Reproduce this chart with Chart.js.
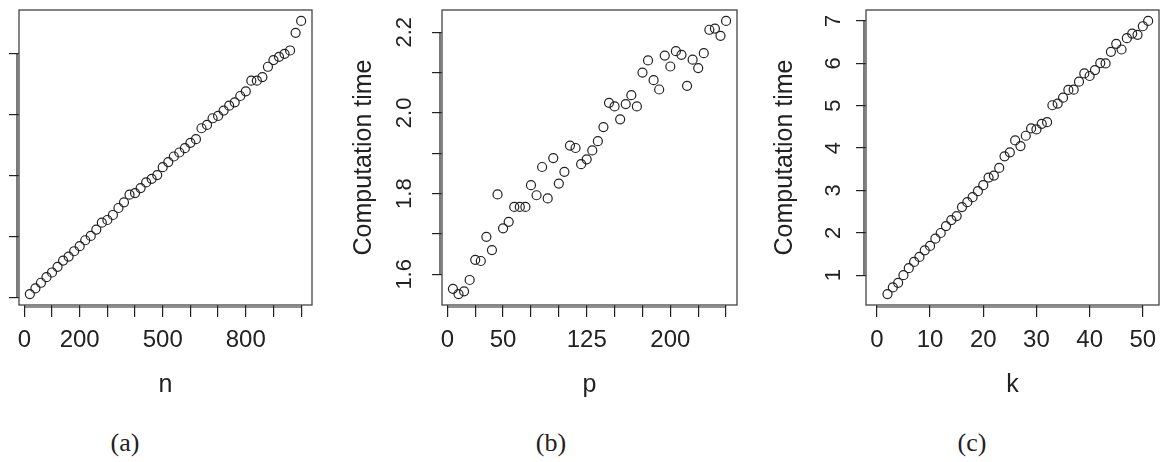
<!DOCTYPE html>
<html>
<head>
<meta charset="utf-8">
<script src="https://cdn.jsdelivr.net/npm/chart.js@4/dist/chart.umd.min.js"></script>
<style>
  body { margin: 0; background: #fff; width: 1167px; height: 462px; position: relative; overflow: hidden; }
  canvas { position: absolute; top: 0; }
  .cap { position: absolute; top: 428px; font-family: "Liberation Serif", serif; font-size: 26px; line-height: 30px; color: #222; transform: translateX(-50%); }
</style>
</head>
<body>
<canvas id="ca" width="330" height="400" style="left:0px"></canvas>
<canvas id="cb" width="415" height="400" style="left:340px"></canvas>
<canvas id="cc" width="407" height="400" style="left:760px"></canvas>
<div class="cap" style="left:125px">(a)</div>
<div class="cap" style="left:551px">(b)</div>
<div class="cap" style="left:972px">(c)</div>
<script>
// panel (a): computation time against n (y axis labels are cut off in the figure)
const nValues = [20, 40, 60, 80, 100, 120, 140, 160, 180, 200, 220, 240, 260, 280, 300, 320, 340, 360, 380, 400,
  420, 440, 460, 480, 500, 520, 540, 560, 580, 600, 620, 640, 660, 680, 700, 720, 740, 760, 780, 800,
  820, 840, 860, 880, 900, 920, 940, 960, 980, 1000];
const timeA = [1.065, 1.157, 1.25, 1.342, 1.418, 1.51, 1.613, 1.678, 1.765, 1.847,
  1.944, 2.015, 2.118, 2.232, 2.275, 2.357, 2.471, 2.563, 2.688, 2.715,
  2.796, 2.889, 2.948, 3.008, 3.138, 3.22, 3.312, 3.377, 3.448, 3.535,
  3.594, 3.773, 3.828, 3.936, 3.974, 4.061, 4.142, 4.197, 4.3, 4.376,
  4.55, 4.55, 4.609, 4.777, 4.886, 4.94, 4.989, 5.043, 5.331, 5.526];
const xTicksA = [0, 100, 200, 300, 400, 500, 600, 700, 800, 900, 1000];
const xLabelsA = ['0', '', '200', '', '', '500', '', '', '800', '', ''];
const yTicksA = [1, 2, 3, 4, 5];
const yLabelsA = ['', '', '', '', ''];

// panel (b): computation time against p
const pValues = [5, 10, 15, 20, 25, 30, 35, 40, 45, 50, 55, 60, 65, 70, 75, 80, 85, 90, 95, 100,
  105, 110, 115, 120, 125, 130, 135, 140, 145, 150, 155, 160, 165, 170, 175, 180, 185, 190, 195, 200,
  205, 210, 215, 220, 225, 230, 235, 240, 245, 250];
const timeB = [1.564, 1.551, 1.558, 1.586, 1.636, 1.633, 1.693, 1.66, 1.798, 1.714,
  1.73, 1.767, 1.767, 1.767, 1.821, 1.796, 1.866, 1.788, 1.888, 1.825,
  1.854, 1.919, 1.913, 1.873, 1.885, 1.907, 1.93, 1.965, 2.025, 2.016,
  1.984, 2.022, 2.044, 2.016, 2.1, 2.13, 2.081, 2.058, 2.142, 2.115,
  2.153, 2.144, 2.067, 2.132, 2.111, 2.148, 2.206, 2.209, 2.191, 2.228];
const xTicksB = [0, 25, 50, 75, 100, 125, 150, 175, 200, 225, 250];
const xLabelsB = ['0', '', '50', '', '', '125', '', '', '200', '', ''];
const yTicksB = [1.6, 1.7, 1.8, 1.9, 2.0, 2.1, 2.2];
const yLabelsB = ['1.6', '', '1.8', '', '2.0', '', '2.2'];

// panel (c): computation time against k
const kValues = [2, 3, 4, 5, 6, 7, 8, 9, 10, 11, 12, 13, 14, 15, 16, 17, 18, 19, 20, 21,
  22, 23, 24, 25, 26, 27, 28, 29, 30, 31, 32, 33, 34, 35, 36, 37, 38, 39, 40, 41,
  42, 43, 44, 45, 46, 47, 48, 49, 50, 51];
const timeC = [0.554, 0.71, 0.82, 1.0, 1.164, 1.313, 1.431, 1.587, 1.689, 1.862,
  1.995, 2.159, 2.3, 2.394, 2.606, 2.723, 2.841, 2.982, 3.123, 3.303,
  3.35, 3.53, 3.804, 3.898, 4.18, 4.047, 4.29, 4.462, 4.439, 4.572,
  4.611, 5.01, 5.05, 5.19, 5.371, 5.378, 5.566, 5.762, 5.7, 5.841,
  6.005, 5.997, 6.271, 6.459, 6.326, 6.593, 6.702, 6.671, 6.875, 7.0];
const xTicksC = [0, 10, 20, 30, 40, 50];
const xLabelsC = ['0', '10', '20', '30', '40', '50'];
const yTicksC = [1, 2, 3, 4, 5, 6, 7];
const yLabelsC = ['1', '2', '3', '4', '5', '6', '7'];

const ink = '#222';
const sans = '"Liberation Sans", Arial, sans-serif';

// box round the plot region and R style axis lines (first tick to last tick)
const framePlugin = {
  id: 'frame',
  afterDraw(chart) {
    const { ctx, chartArea: a, scales } = chart;
    ctx.save();
    ctx.strokeStyle = '#444';
    ctx.lineWidth = 1.3;
    ctx.strokeRect(a.left, a.top, a.right - a.left, a.bottom - a.top);
    ctx.strokeStyle = ink;
    ctx.lineWidth = 1.2;
    const xt = scales.x.ticks, yt = scales.y.ticks;
    ctx.beginPath();
    ctx.moveTo(scales.x.getPixelForValue(xt[0].value), a.bottom + 2);
    ctx.lineTo(scales.x.getPixelForValue(xt[xt.length - 1].value), a.bottom + 2);
    ctx.moveTo(a.left - 2, scales.y.getPixelForValue(yt[0].value));
    ctx.lineTo(a.left - 2, scales.y.getPixelForValue(yt[yt.length - 1].value));
    ctx.stroke();
    ctx.restore();
  }
};

function makePanel(id, p) {
  const pts = p.xs.map((x, i) => ({ x: x, y: p.ys[i] }));
  return new Chart(document.getElementById(id), {
    type: 'scatter',
    data: {
      datasets: [{
        data: pts,
        pointStyle: 'circle',
        pointRadius: 4.5,
        pointBorderWidth: 1.2,
        borderColor: ink,
        backgroundColor: 'rgba(0,0,0,0)'
      }]
    },
    options: {
      responsive: false,
      animation: false,
      layout: { padding: { top: 10, right: p.padRight, left: 0, bottom: 0 } },
      plugins: { legend: { display: false }, tooltip: { enabled: false } },
      scales: {
        x: {
          type: 'linear',
          min: p.xMin, max: p.xMax,
          afterBuildTicks: s => { s.ticks = p.xTicks.map(v => ({ value: v })); },
          afterFit: s => { s.height = 95; s.paddingLeft = 0; s.paddingRight = 0; },
          grid: { display: true, drawOnChartArea: false, drawTicks: true, tickLength: 12, color: ink, lineWidth: 1.2 },
          border: { display: false },
          ticks: {
            autoSkip: false, maxRotation: 0, minRotation: 0, padding: 9, color: ink,
            font: { family: sans, size: 24 },
            callback: (v, i) => p.xLabels[i]
          },
          title: { display: true, text: p.xTitle, color: ink, font: { family: sans, size: 25 }, padding: { top: 0, bottom: 0 } }
        },
        y: {
          type: 'linear',
          min: p.yMin, max: p.yMax,
          afterBuildTicks: s => { s.ticks = p.yTicks.map(v => ({ value: v })); },
          afterFit: s => { s.width = p.yWidth; s.paddingTop = 0; s.paddingBottom = 0; },
          grid: { display: true, drawOnChartArea: false, drawTicks: true, tickLength: 10, color: ink, lineWidth: 1.2 },
          border: { display: false },
          ticks: {
            autoSkip: false, minRotation: 90, maxRotation: 90, crossAlign: 'center', padding: p.yPad, color: ink,
            font: { family: sans, size: 22 },
            callback: (v, i) => p.yLabels[i]
          },
          title: { display: p.yTitle !== '', text: p.yTitle, color: ink, font: { family: sans, size: 25 }, padding: { top: p.yTitlePad, bottom: 0 } }
        }
      }
    },
    plugins: [framePlugin]
  });
}

makePanel('ca', {
  xs: nValues, ys: timeA, xMin: -19.2, xMax: 1039.2, yMin: 0.887, yMax: 5.704,
  xTicks: xTicksA, xLabels: xLabelsA, yTicks: yTicksA, yLabels: yLabelsA,
  xTitle: 'n', yTitle: '', yWidth: 19, padRight: 18, yPad: 4, yTitlePad: 0
});
makePanel('cb', {
  xs: pValues, ys: timeB, xMin: -4.8, xMax: 259.8, yMin: 1.524, yMax: 2.255,
  xTicks: xTicksB, xLabels: xLabelsB, yTicks: yTicksB, yLabels: yLabelsB,
  xTitle: 'p', yTitle: 'Computation time', yWidth: 102, padRight: 18, yPad: 12, yTitlePad: 9
});
makePanel('cc', {
  xs: kValues, ys: timeC, xMin: -2.04, xMax: 53.04, yMin: 0.296, yMax: 7.258,
  xTicks: xTicksC, xLabels: xLabelsC, yTicks: yTicksC, yLabels: yLabelsC,
  xTitle: 'k', yTitle: 'Computation time', yWidth: 106, padRight: 8, yPad: 16, yTitlePad: 10
});
</script>
</body>
</html>
